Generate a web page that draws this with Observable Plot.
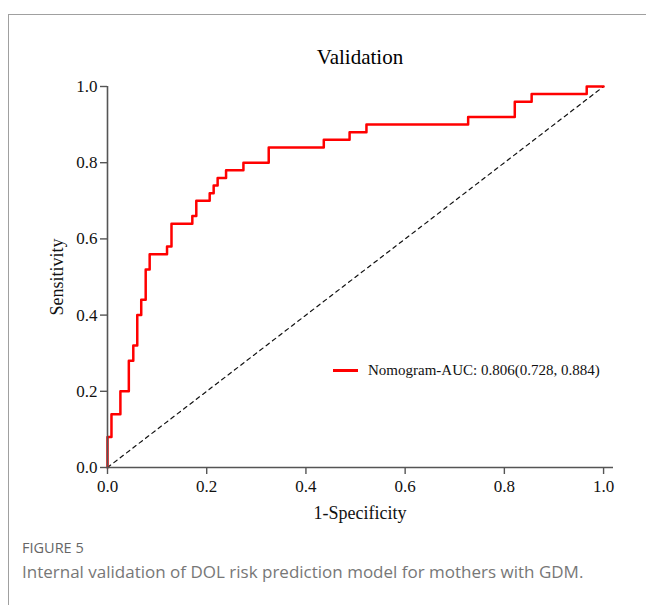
<!DOCTYPE html>
<html>
<head>
<meta charset="utf-8">
<script src="https://cdn.jsdelivr.net/npm/d3@7"></script>
<script src="https://cdn.jsdelivr.net/npm/@observablehq/plot@0.6"></script>
<style>
  html, body { margin: 0; padding: 0; background: #fff; }
  body { width: 646px; height: 605px; position: relative; overflow: hidden; }
  #frame { position: absolute; left: 8px; top: 14px; width: 660px; height: 620px;
           border-left: 1px solid #a0a0a0; border-top: 1px solid #a0a0a0; }
  #title { position: absolute; left: 0; width: 720px; top: 44px; text-align: center;
           font-family: "Liberation Serif", serif; font-size: 21px; color: #000; line-height: 26px; }
  #chart { position: absolute; left: 0; top: 0; }
  #xlab { position: absolute; left: 0; width: 720px; top: 502px; text-align: center;
          font-family: "Liberation Serif", serif; font-size: 18px; color: #111; line-height: 22px; }
  #ylab { position: absolute; left: 57px; top: 277px; transform: translate(-50%, -50%) rotate(-90deg);
          font-family: "Liberation Serif", serif; font-size: 18px; color: #111; line-height: 22px; white-space: nowrap; }
  #legend { position: absolute; left: 333px; top: 362px; display: flex; align-items: center;
            font-family: "Liberation Serif", serif; font-size: 15px; color: #111; white-space: nowrap; }
  #legend .sw { width: 25px; height: 2.5px; background: #ff0000; margin-right: 10px; }
  #figlabel { position: absolute; left: 22px; top: 538px; font-family: "Open Sans", sans-serif;
              font-size: 14.5px; color: #666; }
  #figcap { position: absolute; left: 22px; top: 560px; font-family: "Open Sans", sans-serif;
            font-size: 17px; color: #777; white-space: nowrap; }
</style>
</head>
<body>
<div id="frame"></div>
<div id="chart"></div>
<div id="title"></div>
<div id="xlab"></div>
<div id="ylab"></div>
<div id="legend"><div class="sw"></div><span id="legtext"></span></div>
<div id="figlabel"></div>
<div id="figcap"></div>
<script>
// ---- data ----
const titleText = "Validation";
const xLabel = "1-Specificity";
const yLabel = "Sensitivity";
const legendLabel = "Nomogram-AUC: 0.806(0.728, 0.884)";
const figureLabel = "FIGURE 5";
const figureCaption = "Internal validation of DOL risk prediction model for mothers with GDM.";
const tickValues = [0, 0.2, 0.4, 0.6, 0.8, 1.0];
const fpr = [0, 0, 0.008, 0.026, 0.043, 0.052, 0.060, 0.068, 0.077, 0.085, 0.120, 0.129, 0.171, 0.179,
             0.206, 0.214, 0.222, 0.239, 0.274, 0.325, 0.436, 0.488, 0.522, 0.727, 0.821, 0.855, 0.966, 1.0];
const tpr = [0, 0.08, 0.14, 0.20, 0.28, 0.32, 0.40, 0.44, 0.52, 0.56, 0.58, 0.64, 0.66, 0.70,
             0.72, 0.74, 0.76, 0.78, 0.80, 0.84, 0.86, 0.88, 0.90, 0.92, 0.96, 0.98, 1.00, 1.00];
const diagX = [0, 1];
const diagY = [0, 1];

const roc = fpr.map((x, i) => ({x, y: tpr[i]}));
const diag = diagX.map((x, i) => ({x, y: diagY[i]}));

document.getElementById("title").textContent = titleText;
document.getElementById("xlab").textContent = xLabel;
document.getElementById("ylab").textContent = yLabel;
document.getElementById("legtext").textContent = legendLabel;
document.getElementById("figlabel").textContent = figureLabel;
document.getElementById("figcap").textContent = figureCaption;

const axisColor = "#555";
const chart = Plot.plot({
  width: 646,
  height: 540,
  marginLeft: 107,
  marginRight: 33,
  marginTop: 86,
  marginBottom: 73,
  style: {fontFamily: "Liberation Serif, serif", fontSize: "17px", color: "#111", background: "transparent"},
  x: {domain: [0, 1.02]},
  y: {domain: [0, 1]},
  marks: [
    Plot.line(diag, {x: "x", y: "y", stroke: "#111", strokeWidth: 1.2, strokeDasharray: "4,4"}),
    Plot.line(roc, {x: "x", y: "y", curve: "step-after", stroke: "#ff0000", strokeWidth: 2.5}),
    Plot.ruleY([0], {stroke: axisColor, strokeWidth: 1.6}),
    Plot.ruleX([0], {stroke: axisColor, strokeWidth: 1.6}),
    Plot.axisX({ticks: tickValues, tickFormat: d3.format(".1f"), tickSize: 7, tickPadding: 5,
                stroke: axisColor, strokeWidth: 1.4, label: null, fontSize: 17}),
    Plot.axisY({ticks: tickValues, tickFormat: d3.format(".1f"), tickSize: 7, tickPadding: 3,
                stroke: axisColor, strokeWidth: 1.4, label: null, fontSize: 17})
  ]
});
document.getElementById("chart").appendChild(chart);
</script>
</body>
</html>
